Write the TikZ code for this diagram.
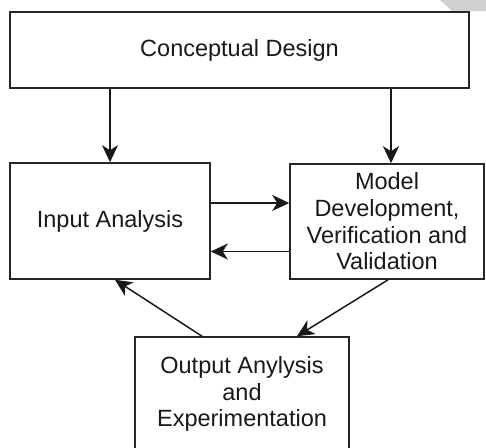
\documentclass[tikz,border=0pt]{standalone}
\usepackage{fontspec}
\setmainfont{Liberation Sans}
\usetikzlibrary{arrows.meta}

\begin{document}
\begin{tikzpicture}[x=1pt, y=-1pt,
	box/.style={draw=black!85, line width=1.6pt, align=center, text=black!90,
		font=\fontsize{23.5}{26.7}\selectfont, inner sep=0pt},
	arr/.style={line width=1.5pt, draw=black!90, -{Stealth[length=17pt, width=16pt, inset=5pt]}}]
	\useasboundingbox (0,0) rectangle (486,447);
	%corner
	\fill[black!18] (440,0)--(452,11)--(486,11)--(486,0)--cycle;

	%boxes
	\node[box, minimum width=459pt, minimum height=76pt] (design) at (239.5,50) {Conceptual Design};
	\node[box, minimum width=200pt, minimum height=116pt] (input) at (110,221) {Input Analysis};
	\node[box, minimum width=194pt, minimum height=115pt] (model) at (387,221.5) {Model\\Development,\\Verification and\\Validation};
	\node[box, minimum width=214pt, minimum height=114pt] (output) at (242,394) {Output Anylysis\\and\\Experimentation};

	%arrows
	\draw[arr] (design.south -| input.north) -- (input.north);
	\draw[arr] ([xshift=4pt]design.south -| model.north) -- ([xshift=4pt]model.north);
	\draw[arr] ([yshift=18pt]input.east) -- ([yshift=18pt]input.east -| model.west);
	\draw[arr] ([yshift=-30pt]model.west) -- ([yshift=-30pt]model.west -| input.east);
	\draw[arr] ([xshift=-40pt]output.north) -- ([xshift=5pt]input.south);
	\draw[arr] ([xshift=1pt]model.south) -- ([xshift=55pt]output.north);
\end{tikzpicture}
\end{document}
